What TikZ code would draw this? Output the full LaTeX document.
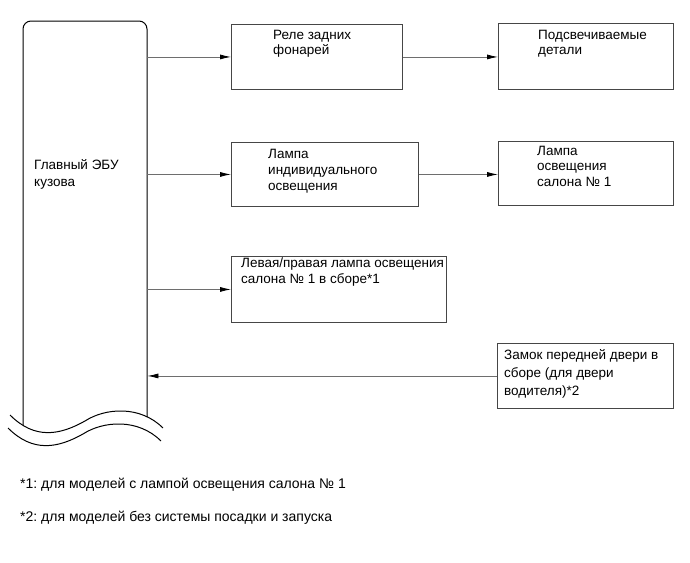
\documentclass[tikz,border=0pt]{standalone}
\usepackage{fontspec}
\setmainfont{Liberation Sans}
\usetikzlibrary{arrows.meta}
\definecolor{boxgray}{RGB}{70,70,70}
\definecolor{wiregray}{RGB}{110,110,110}
\frenchspacing

\begin{document}
\begin{tikzpicture}[x=1pt, y=-1pt,
    part/.style={rectangle, draw=boxgray, line width=0.9pt, anchor=north west, inner sep=0pt},
    txt/.style={anchor=base west, align=left, inner sep=0pt, font=\fontsize{13.5}{15.8}\selectfont},
    wire/.style={draw=wiregray, line width=0.8pt, -{Latex[length=11pt, width=5pt, black]}}]
    \useasboundingbox (0,0) rectangle (690,562);

    % Body ECU (base point = last line)
    \node[minimum width=124pt, minimum height=394pt, inner sep=0pt, anchor=north west] (ecu) at (23,21) {};
    \draw[line width=1pt] (23,425) [rounded corners=8pt] -- (23,21) -- (147,21) [sharp corners] -- (147,417);
    \draw[line width=1pt] (10,415) .. controls (35,440) and (60,435) .. (85,421) .. controls (105,408) and (140,405) .. (163,428);
    \draw[line width=1pt] (8,428) .. controls (33,453) and (58,448) .. (83,434) .. controls (103,421) and (138,418) .. (161,441);
    \node[txt, font=\fontsize{13.5}{17.5}\selectfont] (ecutxt) at (34,186.5) {Главный ЭБУ\\кузова};

    % Row 1
    \node[part, minimum width=171pt, minimum height=65pt] (relay) at (231,24) {};
    \node[txt, font=\fontsize{13.5}{15}\selectfont] (relaytxt) at (273,54.5) {Реле задних\\фонарей};
    \node[part, minimum width=175pt, minimum height=66pt] (illum) at (498,23) {};
    \node[txt, font=\fontsize{13.5}{15}\selectfont] (illumtxt) at (538,54.5) {Подсвечиваемые\\детали};

    % Row 2
    \node[part, minimum width=187pt, minimum height=64pt] (indiv) at (231,142) {};
    \node[txt] (indivtxt) at (268,190) {Лампа\\индивидуального\\освещения};
    \node[part, minimum width=175pt, minimum height=64pt] (room) at (498,141) {};
    \node[txt, font=\fontsize{13.5}{15.5}\selectfont] (roomtxt) at (537,186) {Лампа\\освещения\\салона № 1};

    % Row 3
    \node[part, minimum width=215pt, minimum height=66pt] (roomassy) at (231,256) {};
    \node[txt] (roomassytxt) at (241,283.3) {Левая/правая лампа освещения\\салона № 1 в сборе*1};

    % Row 4
    \node[part, minimum width=176pt, minimum height=65pt] (lock) at (497,343) {};
    \node[txt, font=\fontsize{13.5}{18}\selectfont] (locktxt) at (504,395) {Замок передней двери в\\сборе (для двери\\водителя)*2};

    % connections
    \draw[wire] (ecu.east |- relay.west) -- (relay.west);
    \draw[wire] (relay.east) -- (illum.west |- relay.east);
    \draw[wire] (ecu.east |- indiv.west) -- (indiv.west);
    \draw[wire] (indiv.east) -- (room.west |- indiv.east);
    \draw[wire] (ecu.east |- roomassy.west) -- (roomassy.west);
    \draw[wire] (lock.west) -- (ecu.east |- lock.west);

    % notes
    \node[txt, font=\fontsize{14}{16}\selectfont] (note1) at (20,488.3) {*1: для моделей с лампой освещения салона № 1};
    \node[txt, font=\fontsize{14}{16}\selectfont] (note2) at (20,521.7) {*2: для моделей без системы посадки и запуска};
\end{tikzpicture}
\end{document}
